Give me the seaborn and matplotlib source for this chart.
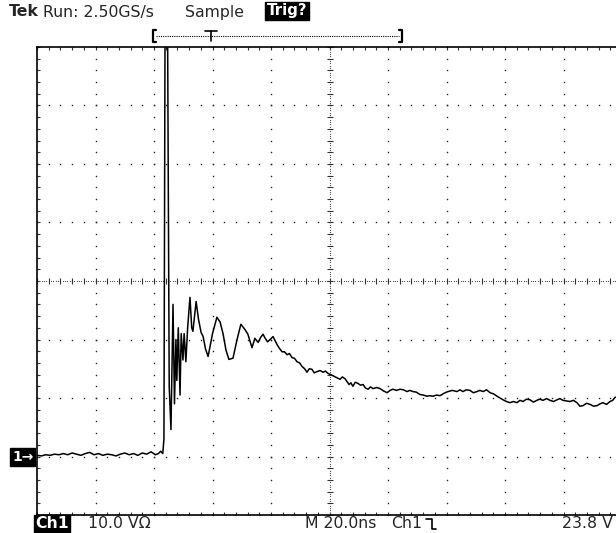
import matplotlib
matplotlib.use('Agg')
import matplotlib.pyplot as plt
from matplotlib.lines import Line2D
import numpy as np
import seaborn as sns

# Tek screen capture: Ch1, 10 V/div, 20 ns/div, trigger 23.8 V
time_ns = [
    0.0, 1.5, 3.0, 4.5, 6.0, 7.5, 9.0, 10.5, 12.0, 13.5, 15.0, 16.5, 18.0,
    19.5, 21.0, 22.5, 24.0, 25.5, 27.0, 28.5, 30.0, 31.5, 33.0, 34.5, 36.0,
    37.5, 39.0, 40.5, 41.5, 42.3, 43.0, 43.4, 43.8, 44.6, 45.2, 45.8,
    46.5, 47.0, 47.5, 47.8, 48.3, 48.9, 49.3, 49.9, 50.3, 50.9, 51.5, 52.3, 52.9,
    53.3, 54.4, 55.2, 56.1, 56.8, 57.6, 58.5, 60.0, 61.5, 62.6, 63.6, 64.6, 65.6,
    67.0, 68.4, 69.7, 71.1, 72.1, 73.5, 74.5, 75.6, 76.5, 77.3, 77.9, 78.8,
    79.7, 80.7, 81.4, 82.1, 83.0, 83.8, 84.6, 85.5, 86.3, 87.2, 88.0, 88.9,
    89.8, 90.6, 91.5, 92.3, 93.1, 94.0, 94.8, 95.7, 96.8, 97.8, 98.6, 99.5,
    100.4, 101.2, 102.4, 103.6, 104.4, 105.3, 106.0, 106.7, 107.3, 108.0,
    108.8, 109.7, 110.6, 111.5, 112.3, 113.2, 114.0, 114.9, 116.1, 117.3,
    118.5, 119.7, 120.7, 121.7, 122.9, 124.1, 125.3, 126.5, 127.5, 128.5,
    129.7, 130.9, 132.1, 133.3, 134.3, 135.4, 136.6, 137.8, 139.1, 140.5,
    142.0, 143.6, 144.6, 145.6, 146.8, 148.0, 149.2, 150.4, 151.4, 152.5,
    153.7, 154.9, 156.1, 157.3, 158.3, 159.3, 160.5, 161.7, 162.9, 164.1,
    165.1, 166.2, 167.3, 168.5, 169.7, 170.9, 171.9, 173.0, 174.2, 175.4,
    176.6, 177.8, 178.8, 179.8, 181.0, 182.2, 183.4, 184.6, 185.6, 186.7,
    187.9, 189.1, 190.3, 191.5, 192.5, 193.5, 194.7, 195.9, 196.8, 197.6, 199.5,
]
volts = [
    0.2, 0.1, 0.3, 0.2, 0.4, 0.3, 0.5, 0.3, 0.6, 0.4, 0.2, 0.5, 0.7,
    0.3, 0.5, 0.2, 0.4, 0.3, 0.1, 0.4, 0.6, 0.3, 0.5, 0.2, 0.6,
    0.4, 0.8, 0.3, 0.5, 0.9, 0.5, 3.0, 78.0, 78.0, 12.0, 4.6,
    26.0, 9.0, 20.0, 13.0, 22.0, 10.5, 21.0, 16.5, 21.0, 16.2, 22.0, 27.2, 22.0,
    21.4, 26.5, 23.5, 21.2, 20.5, 18.4, 17.1, 21.0, 23.8, 23.0, 21.0, 18.2, 16.6,
    16.8, 20.0, 22.6, 21.7, 20.9, 18.6, 20.2, 19.5, 20.4, 20.9, 20.3, 19.6,
    20.0, 20.5, 19.8, 19.1, 18.4, 17.9, 17.9, 17.4, 17.6, 16.9, 16.8, 16.2,
    16.0, 15.4, 15.0, 14.4, 15.0, 14.9, 14.3, 14.5, 14.7, 14.4, 14.6, 14.2,
    14.0, 13.8, 13.5, 13.2, 13.6, 13.3, 12.8, 12.3, 12.6, 12.0,
    12.7, 12.5, 12.2, 12.3, 11.7, 11.5, 11.9, 11.6, 11.8, 11.6,
    11.2, 10.9, 11.3, 11.5, 11.3, 11.5, 11.4, 11.1, 11.3, 11.1,
    11.0, 10.6, 10.5, 10.3, 10.4, 10.3, 10.5, 10.4, 10.8, 11.1,
    11.3, 11.1, 11.4, 11.1, 11.4, 11.3, 10.9, 11.1, 11.3, 11.1,
    11.4, 10.9, 10.7, 10.3, 10.0, 9.7, 9.4, 9.2, 9.4, 9.2,
    9.6, 9.4, 9.8, 9.7, 9.3, 9.6, 9.8, 9.6, 9.9, 9.6,
    9.4, 9.7, 9.9, 9.6, 9.5, 9.4, 9.6, 9.2, 8.6, 8.7,
    9.1, 8.9, 8.6, 8.7, 9.0, 9.2, 8.9, 9.4, 9.6, 10.1, 10.4,
]

T_MIN, T_MAX = 0, 200
V_MIN, V_MAX = -10, 70
T_DIV, V_DIV = 20, 10
T_CENTER, V_CENTER = 100, 30

W, H = 616, 533


def fpos(x, y):
    # pixel position -> figure fraction
    return x / W, 1 - y / H


def fline(xs, ys, **kw):
    fig.add_artist(Line2D([x / W for x in xs], [1 - y / H for y in ys],
                          transform=fig.transFigure, color='black', **kw))


sns.set_style('white')
plt.rcParams['font.family'] = ['DejaVu Sans']

fig = plt.figure(figsize=(W / 100, H / 100), dpi=100)
ax = fig.add_axes([37 / W, 18 / H, 585 / W, 468 / H])

ax.set_xlim(T_MIN, T_MAX)
ax.set_ylim(V_MIN, V_MAX)

# graticule dots
dot = dict(color='#222222', marker='s', markersize=1.0, markeredgewidth=0,
           linestyle='none')
for t in np.arange(T_MIN + T_DIV, T_MAX, T_DIV):
    if t == T_CENTER:
        continue
    ax.plot(np.full(41, t), np.arange(V_MIN, V_MAX + 0.1, 2), **dot)
for v in np.arange(V_MIN + V_DIV, V_MAX, V_DIV):
    if v == V_CENTER:
        continue
    ax.plot(np.arange(T_MIN, T_MAX + 0.1, 4), np.full(51, v), **dot)

# center cross with fine dots and tick marks
fine = dict(dot, color='#555555', markersize=0.8)
ax.plot(np.full(201, T_CENTER), np.linspace(V_MIN, V_MAX, 201), **fine)
ax.plot(np.linspace(T_MIN, T_MAX, 251), np.full(251, V_CENTER), **fine)
ax.plot(np.full(41, T_CENTER), np.arange(V_MIN, V_MAX + 0.1, 2),
        color='#333333', marker='_', markersize=4, markeredgewidth=0.8, linestyle='none')
ax.plot(np.arange(T_MIN, T_MAX + 0.1, 4), np.full(51, V_CENTER),
        color='#333333', marker='|', markersize=4, markeredgewidth=0.8, linestyle='none')

sns.lineplot(x=time_ns, y=volts, ax=ax, color='black', linewidth=1.1,
             sort=False, estimator=None)

ax.set_xlabel('')
ax.set_ylabel('')
ax.set_xticks(np.arange(T_MIN, T_MAX + 1, T_DIV))
ax.set_xticks(np.arange(T_MIN, T_MAX + 1, 4), minor=True)
ax.set_yticks(np.arange(V_MIN, V_MAX + 1, V_DIV))
ax.set_yticks(np.arange(V_MIN, V_MAX + 1, 2), minor=True)
ax.tick_params(which='both', direction='in', top=True, bottom=True, left=True,
               right=False, labelbottom=False, labelleft=False,
               length=2.5, width=0.8, color='#333333')
for side in ['left', 'top', 'bottom']:
    ax.spines[side].set_linewidth(1.2)
    ax.spines[side].set_color('black')
ax.spines['right'].set_visible(False)

# header text
fs = 11.3
fig.text(*fpos(9, 12), 'Tek', fontsize=fs, fontweight='bold', va='center')
fig.text(*fpos(43, 12), 'Run: 2.50GS/s', fontsize=fs, va='center')
fig.text(*fpos(185, 12), 'Sample', fontsize=fs, va='center')
fig.text(*fpos(267, 11), 'Trig?', fontsize=fs - 0.5, fontweight='bold', va='center',
         color='white', bbox=dict(facecolor='black', edgecolor='black', pad=1.2))

# record view bracket with trigger marker
fline([156, 153, 153, 156], [30, 30, 42, 42], linewidth=1.6)
fline([399, 402, 402, 399], [30, 30, 42, 42], linewidth=1.6)
fline([156, 399], [36, 36], linewidth=0.8, linestyle=(0, (1, 1)))
fline([205, 217], [31, 31], linewidth=1.2)
fline([211, 211], [31, 41], linewidth=1.2)

# ground marker
fig.text(*fpos(12, 457), '1\u2192', fontsize=10, fontweight='bold', va='center',
         color='white', bbox=dict(facecolor='black', edgecolor='black', pad=1.2))

# footer text
fig.text(*fpos(35, 524), 'Ch1', fontsize=fs, fontweight='bold', va='center',
         color='white', bbox=dict(facecolor='black', edgecolor='black', pad=1.0))
fig.text(*fpos(88, 524), '10.0 V\u03a9', fontsize=fs, va='center')
fig.text(*fpos(305, 524), 'M 20.0ns', fontsize=fs, va='center')
fig.text(*fpos(391, 524), 'Ch1', fontsize=fs, va='center')
fline([426, 432, 432, 436], [519, 519, 529, 529], linewidth=1.2)
fig.text(*fpos(613, 524), '23.8 V', fontsize=fs, va='center', ha='right')

fig.savefig('out.png', dpi=100)
